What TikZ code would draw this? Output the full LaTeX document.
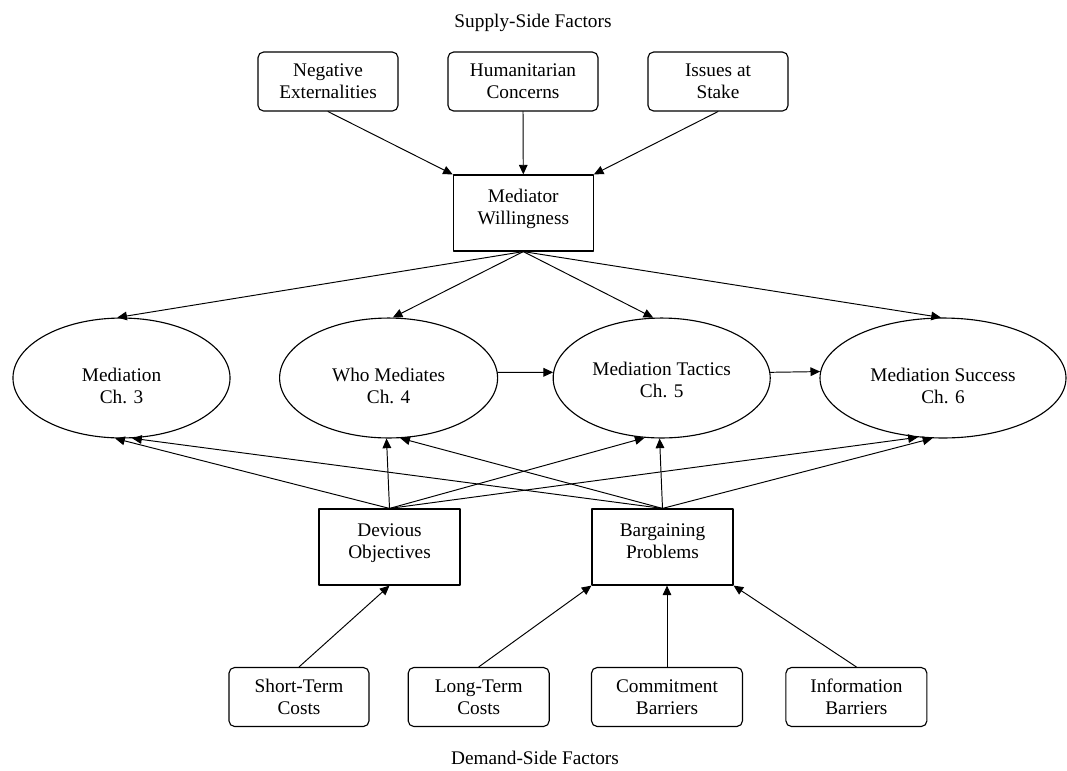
\documentclass[tikz,border=0pt]{standalone}
\usepackage{fontspec}
\setmainfont{Liberation Serif}
\usetikzlibrary{arrows.meta,shapes.geometric}

\begin{document}
\begin{tikzpicture}[line cap=round,line join=round,>={Triangle[length=6pt,width=5.4pt]},x=0.622pt,y=-0.622pt,
		font=\fontsize{12}{13.7}\selectfont,
		factor/.style={draw,line width=0.7pt,rounded corners=3.5pt,align=center,minimum height=36.7pt,inner sep=0pt},
		stage/.style={draw,line width=0.7pt,align=center,minimum width=87.7pt,minimum height=47.3pt,inner sep=0pt,text height=24pt,text depth=9.2pt},
		outcome/.style={draw,ellipse,line width=0.7pt,align=center,minimum height=74.6pt,inner sep=0pt,text height=35pt,text depth=2.8pt},
		link/.style={->,line width=0.6pt}]
		\useasboundingbox (0,0) rectangle (1067,770);
		% supply side
		\node (sup) at (533,22.7) {Supply-Side Factors};
		\node[factor,minimum width=87.1pt] (neg) at (328,81.5) {Negative\\Externalities};
		\node[factor,minimum width=93.3pt] (hum) at (523,81.5) {Humanitarian\\Concerns};
		\node[factor,minimum width=87.1pt] (iss) at (718,81.5) {Issues at\\Stake};
		\node[stage,minimum width=87.1pt] (mw) at (523.3,213) {Mediator\\Willingness};
		% outcomes
		\node[outcome,minimum width=135pt] (med) at (121.5,378) {Mediation\\Ch. 3};
		\node[outcome,minimum width=135.6pt] (who) at (388.6,378) {Who Mediates\\Ch. 4};
		\node[outcome,minimum width=135pt,text height=28pt,text depth=3.2pt] (tac) at (661.7,378) {Mediation Tactics\\Ch. 5};
		\node[outcome,minimum width=153pt] (suc) at (943,378) {Mediation Success\\Ch. 6};
		% demand side
		\node[stage] (do) at (389.5,547) {Devious\\Objectives};
		\node[stage] (bp) at (662.5,547) {Bargaining\\Problems};
		\node[factor,minimum width=87.1pt] (st) at (299,697) {Short-Term\\Costs};
		\node[factor,minimum width=87.7pt] (lt) at (478.7,697) {Long-Term\\Costs};
		\node[factor,minimum width=93.9pt] (cb) at (667,697) {Commitment\\Barriers};
		\node[factor,minimum width=87.7pt] (ib) at (856.4,697) {Information\\Barriers};
		\node (dem) at (535,758) {Demand-Side Factors};
		\draw[link] (neg.south) -- (mw.north west);
		\draw[link] (hum.south) -- (mw.north);
		\draw[link] (iss.south) -- (mw.north east);
		\draw[link] (mw.south) -- (med.94);
		\draw[link] (mw.south) -- (who.86);
		\draw[link] (mw.south) -- (tac.98);
		\draw[link] (mw.south) -- (suc.92);
		\draw[link] (who.3) -- (tac.177);
		\draw[link] (tac.3) -- (suc.177);
		\draw[link] (do.north) -- (med.264);
		\draw[link] (bp.north) -- (med.280);
		\draw[link] (do.north) -- (who.268);
		\draw[link] (bp.north) -- (who.281);
		\draw[link] (do.north) -- (tac.254);
		\draw[link] (bp.north) -- (tac.268);
		\draw[link] (do.north) -- (suc.247);
		\draw[link] (bp.north) -- (suc.260);
		\draw[link] (st.north) -- (do.south);
		\draw[link] (lt.north) -- (bp.south west);
		\draw[link] (cb.north) -- (cb.north |- bp.south);
		\draw[link] (ib.north) -- (bp.south east);
	\end{tikzpicture}
\end{document}
